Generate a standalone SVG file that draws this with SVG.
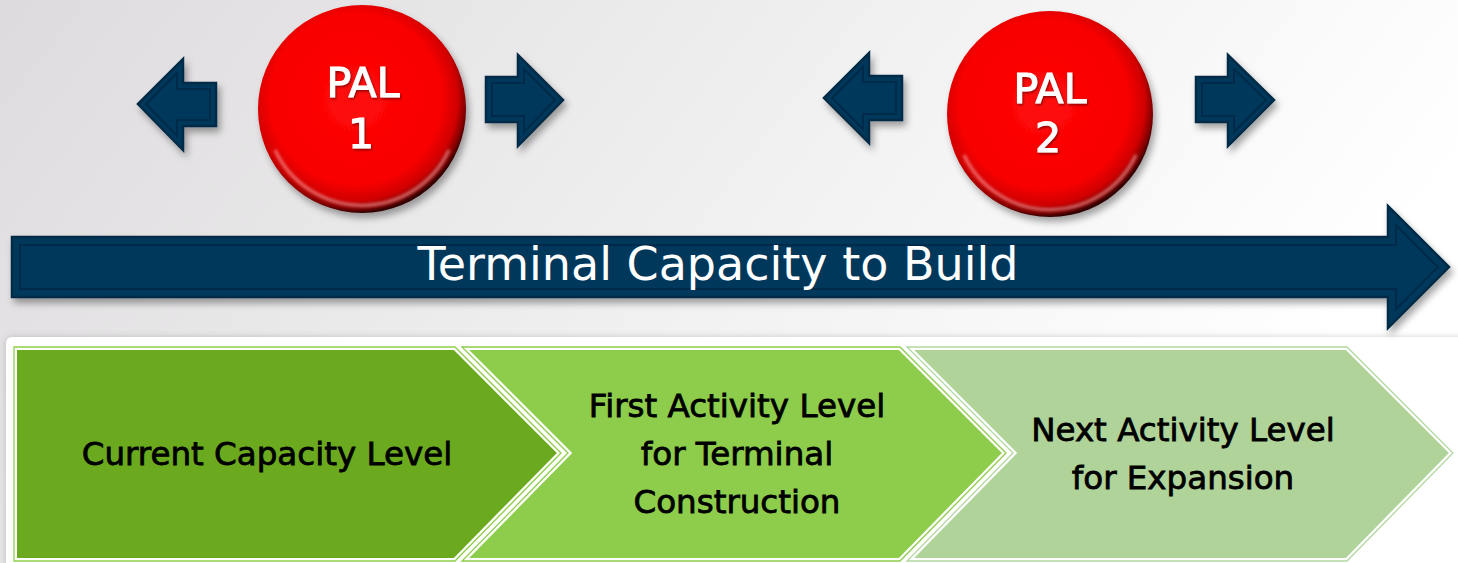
<svg xmlns="http://www.w3.org/2000/svg" width="1458" height="563" viewBox="0 0 1458 563">
  <style>
    .navy { fill: #03395c; stroke: #022a45; stroke-width: 2.5; stroke-linejoin: miter; }
    .navy-inner { fill: none; stroke: #022b48; stroke-width: 2; stroke-linejoin: miter; }
    .pal { font-family: "DejaVu Sans", "Liberation Sans", sans-serif; font-size: 41px; fill: #ffffff; stroke: #ffffff; stroke-width: 1.1; text-anchor: middle; }
    .title { font-family: "DejaVu Sans", "Liberation Sans", sans-serif; font-size: 46px; fill: #ffffff; text-anchor: middle; }
    .step { font-family: "DejaVu Sans", "Liberation Sans", sans-serif; font-size: 32.5px; fill: #000000; stroke: #000000; stroke-width: 0.8; text-anchor: middle; }
    .chev-line { fill: none; stroke-width: 1.3; stroke-linejoin: miter; }
  </style>
  <defs>
    <linearGradient id="bg" x1="0" y1="0" x2="1" y2="0.3">
      <stop offset="0" stop-color="#dddbdd"/>
      <stop offset="0.55" stop-color="#f1f0f1"/>
      <stop offset="1" stop-color="#ffffff"/>
    </linearGradient>
    <radialGradient id="ball" cx="0.47" cy="0.45" r="0.55">
      <stop offset="0" stop-color="#ff0a0a"/>
      <stop offset="0.75" stop-color="#f80000"/>
      <stop offset="0.89" stop-color="#d00000"/>
      <stop offset="0.96" stop-color="#820000"/>
      <stop offset="1" stop-color="#300000"/>
    </radialGradient>
    <filter id="shadow" x="-20%" y="-20%" width="150%" height="150%">
      <feDropShadow dx="3" dy="5" stdDeviation="3.5" flood-color="#000" flood-opacity="0.35"/>
    </filter>
    <filter id="panelShadow" x="-5%" y="-10%" width="110%" height="120%">
      <feDropShadow dx="0" dy="0" stdDeviation="3" flood-color="#000" flood-opacity="0.18"/>
    </filter>
    <filter id="soft" x="-20%" y="-20%" width="140%" height="140%">
      <feGaussianBlur stdDeviation="1.5"/>
    </filter>
    <filter id="textShadow" x="-10%" y="-10%" width="130%" height="130%">
      <feDropShadow dx="1" dy="1.5" stdDeviation="1" flood-color="#400000" flood-opacity="0.6"/>
    </filter>
  </defs>

  <!-- backdrop -->
  <rect x="0" y="0" width="1458" height="563" fill="url(#bg)"/>

  <!-- white panel holding the stages -->
  <rect x="6" y="337" width="1470" height="240" rx="6" fill="#ffffff" filter="url(#panelShadow)"/>

  <!-- connectors: direction arrows -->
  <g id="connectors">
    <g id="timeline" filter="url(#shadow)">
      <path class="navy" d="M12,237 L1388,237 L1388,206 L1449,267 L1388,328 L1388,297 L12,297 Z"/>
      <path class="navy-inner" d="M20,245 L1396,245 L1396,225 L1438,267 L1396,309 L1396,289 L20,289 Z"/>
    </g>
    <g id="pal1-left" filter="url(#shadow)">
      <path class="navy" d="M138,104 L183,59 L183,83 L216,83 L216,126 L183,126 L183,150 Z"/>
      <path class="navy-inner" d="M146,104 L177,73 L177,89 L210,89 L210,120 L177,120 L177,136 Z"/>
    </g>
    <g id="pal1-right" filter="url(#shadow)">
      <path class="navy" d="M486,77 L518,77 L518,55 L563,100 L518,146 L518,122 L486,122 Z"/>
      <path class="navy-inner" d="M492,83 L524,83 L524,69 L555,100 L524,132 L524,116 L492,116 Z"/>
    </g>
    <g id="pal2-left" filter="url(#shadow)">
      <path class="navy" d="M824,98 L869,53 L869,76 L902,76 L902,120 L869,120 L869,143 Z"/>
      <path class="navy-inner" d="M832,98 L863,67 L863,82 L896,82 L896,114 L863,114 L863,129 Z"/>
    </g>
    <g id="pal2-right" filter="url(#shadow)">
      <path class="navy" d="M1196,77 L1228,77 L1228,55 L1274,100 L1228,146 L1228,122 L1196,122 Z"/>
      <path class="navy-inner" d="M1202,83 L1234,83 L1234,69 L1266,100 L1234,132 L1234,116 L1202,116 Z"/>
    </g>
  </g>

  <text class="title" x="718" y="280">Terminal Capacity to Build</text>

  <!-- PAL markers -->
  <g id="pal1">
    <circle cx="362" cy="109" r="104" fill="url(#ball)" filter="url(#shadow)"/>
    <path d="M275,150 A96,96 0 0 0 449,150" fill="none" stroke="#ffb0b0" stroke-opacity="0.6" stroke-width="3" filter="url(#soft)"/>
    <g filter="url(#textShadow)">
      <text class="pal" x="363" y="97">PAL</text>
      <text class="pal" x="361" y="148">1</text>
    </g>
  </g>
  <g id="pal2">
    <circle cx="1050" cy="114" r="103" fill="url(#ball)" filter="url(#shadow)"/>
    <path d="M964,155 A95,95 0 0 0 1136,155" fill="none" stroke="#ffb0b0" stroke-opacity="0.6" stroke-width="3" filter="url(#soft)"/>
    <g filter="url(#textShadow)">
      <text class="pal" x="1050" y="103">PAL</text>
      <text class="pal" x="1048" y="152">2</text>
    </g>
  </g>

  <!-- stages -->
  <g id="stage1">
    <path d="M14,347 L455,347 L561,453 L455,561 L14,561 Z" fill="#6baa1e" stroke="#ffffff" stroke-width="6" stroke-linejoin="miter"/>
    <path class="chev-line" stroke="#8fcf4a" d="M14,347 L455,347 L561,453 L455,561 L14,561 Z"/>
    <text class="step" x="267" y="465">Current Capacity Level</text>
  </g>
  <g id="stage2">
    <path d="M462,347 L900,347 L1006,453 L900,561 L462,561 L568,453 Z" fill="#8dcd4b" stroke="#ffffff" stroke-width="6" stroke-linejoin="miter"/>
    <path class="chev-line" stroke="#8dcd4b" d="M462,347 L900,347 L1006,453 L900,561 L462,561 L568,453 Z"/>
    <text class="step" x="737" y="417">First Activity Level</text>
    <text class="step" x="737" y="465">for Terminal</text>
    <text class="step" x="737" y="513">Construction</text>
  </g>
  <g id="stage3">
    <path d="M907,347 L1347,347 L1453,453 L1347,561 L907,561 L1013,453 Z" fill="#afd399" stroke="#ffffff" stroke-width="6" stroke-linejoin="miter"/>
    <path class="chev-line" stroke="#b2d7a0" d="M907,347 L1347,347 L1453,453 L1347,561 L907,561 L1013,453 Z"/>
    <text class="step" x="1183" y="441">Next Activity Level</text>
    <text class="step" x="1183" y="489">for Expansion</text>
  </g>
</svg>
